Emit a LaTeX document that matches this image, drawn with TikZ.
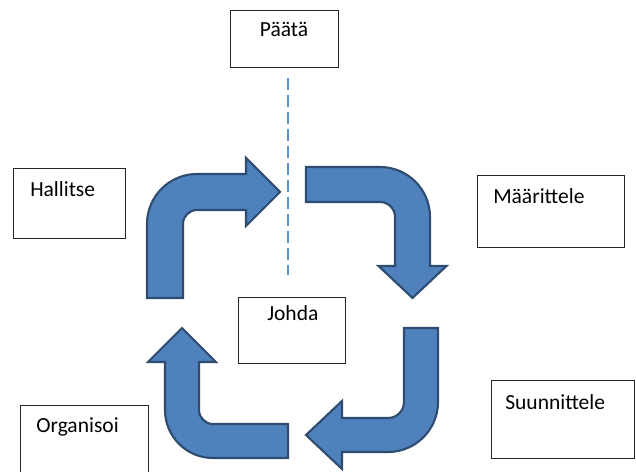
\documentclass[tikz,border=0pt]{standalone}
\usepackage{fontspec}
\setmainfont{Carlito}
\definecolor{arrowblue}{RGB}{79,129,189}
\definecolor{arrowedge}{RGB}{46,76,112}
\definecolor{cutblue}{RGB}{91,145,213}
\tikzset{
    box/.style={draw=black!85, line width=0.8pt, fill=white, anchor=north west, inner sep=0pt},
    word/.style={anchor=base west, inner sep=0pt, font=\fontsize{15.3}{18}\selectfont},
    bent/.style={fill=arrowblue, draw=arrowedge, line width=1.5pt, line join=miter},
    cut/.style={draw=cutblue, line width=1pt, dash pattern=on 0.3cm off 0.125cm}
}
\begin{document}
\begin{tikzpicture}[x=0.025cm, y=0.025cm]
    \clip (0,0) rectangle (636,472);
    % cycle of bent arrows
    \draw[bent] (147,174) -- (147,248) arc (180:90:50) -- (246,298) -- (246,314) -- (280,280)
        -- (246,246) -- (246,262) -- (197,262) arc (90:180:14) -- (183,174) -- cycle;
    \draw[bent] (306,305) -- (380,305) arc (90:0:50) -- (430,206) -- (446.5,206) -- (412.5,174)
        -- (378.5,206) -- (395,206) -- (395,255) arc (0:90:15) -- (306,270) -- cycle;
    \draw[bent] (404,144) -- (438,144) -- (438,70) arc (0:-90:50) -- (342,20) -- (342,3) -- (306,37)
        -- (342,71) -- (342,54) -- (388,54) arc (-90:0:16) -- cycle;
    \draw[bent] (288,48) -- (288,14) -- (213,14) arc (-90:-180:48) -- (165,110) -- (148,110) -- (182,144)
        -- (216,110) -- (199,110) -- (199,62) arc (180:270:14) -- cycle;
    % dashed cut line
    \coordinate (cut top) at (288,394);
    \coordinate (cut bottom) at (288,197);
    \draw[cut] (cut top) -- (cut bottom);
    % text boxes
    \node (paata) [box, minimum width=2.7cm, minimum height=1.425cm] at (230,462) {};
    \node (hallitse) [box, minimum width=2.8cm, minimum height=1.75cm] at (13,304) {};
    \node (maarittele) [box, minimum width=3.675cm, minimum height=1.8cm] at (477,297) {};
    \node (suunnittele) [box, minimum width=3.575cm, minimum height=1.95cm] at (491,92) {};
    \node (organisoi) [box, minimum width=3.2cm, minimum height=2.25cm] at (20,67) {};
    \node (johda) [box, minimum width=2.675cm, minimum height=1.65cm] at (238,175) {};
    \node (paata text) [word, anchor=base] at (284,435) {Päätä};
    \node (hallitse text) [word] at (30,275) {Hallitse};
    \node (maarittele text) [word] at (493,268) {Määrittele};
    \node (suunnittele text) [word] at (505,62) {Suunnittele};
    \node (organisoi text) [word] at (36,39) {Organisoi};
    \node (johda text) [word] at (267,151) {Johda};
\end{tikzpicture}
\end{document}
